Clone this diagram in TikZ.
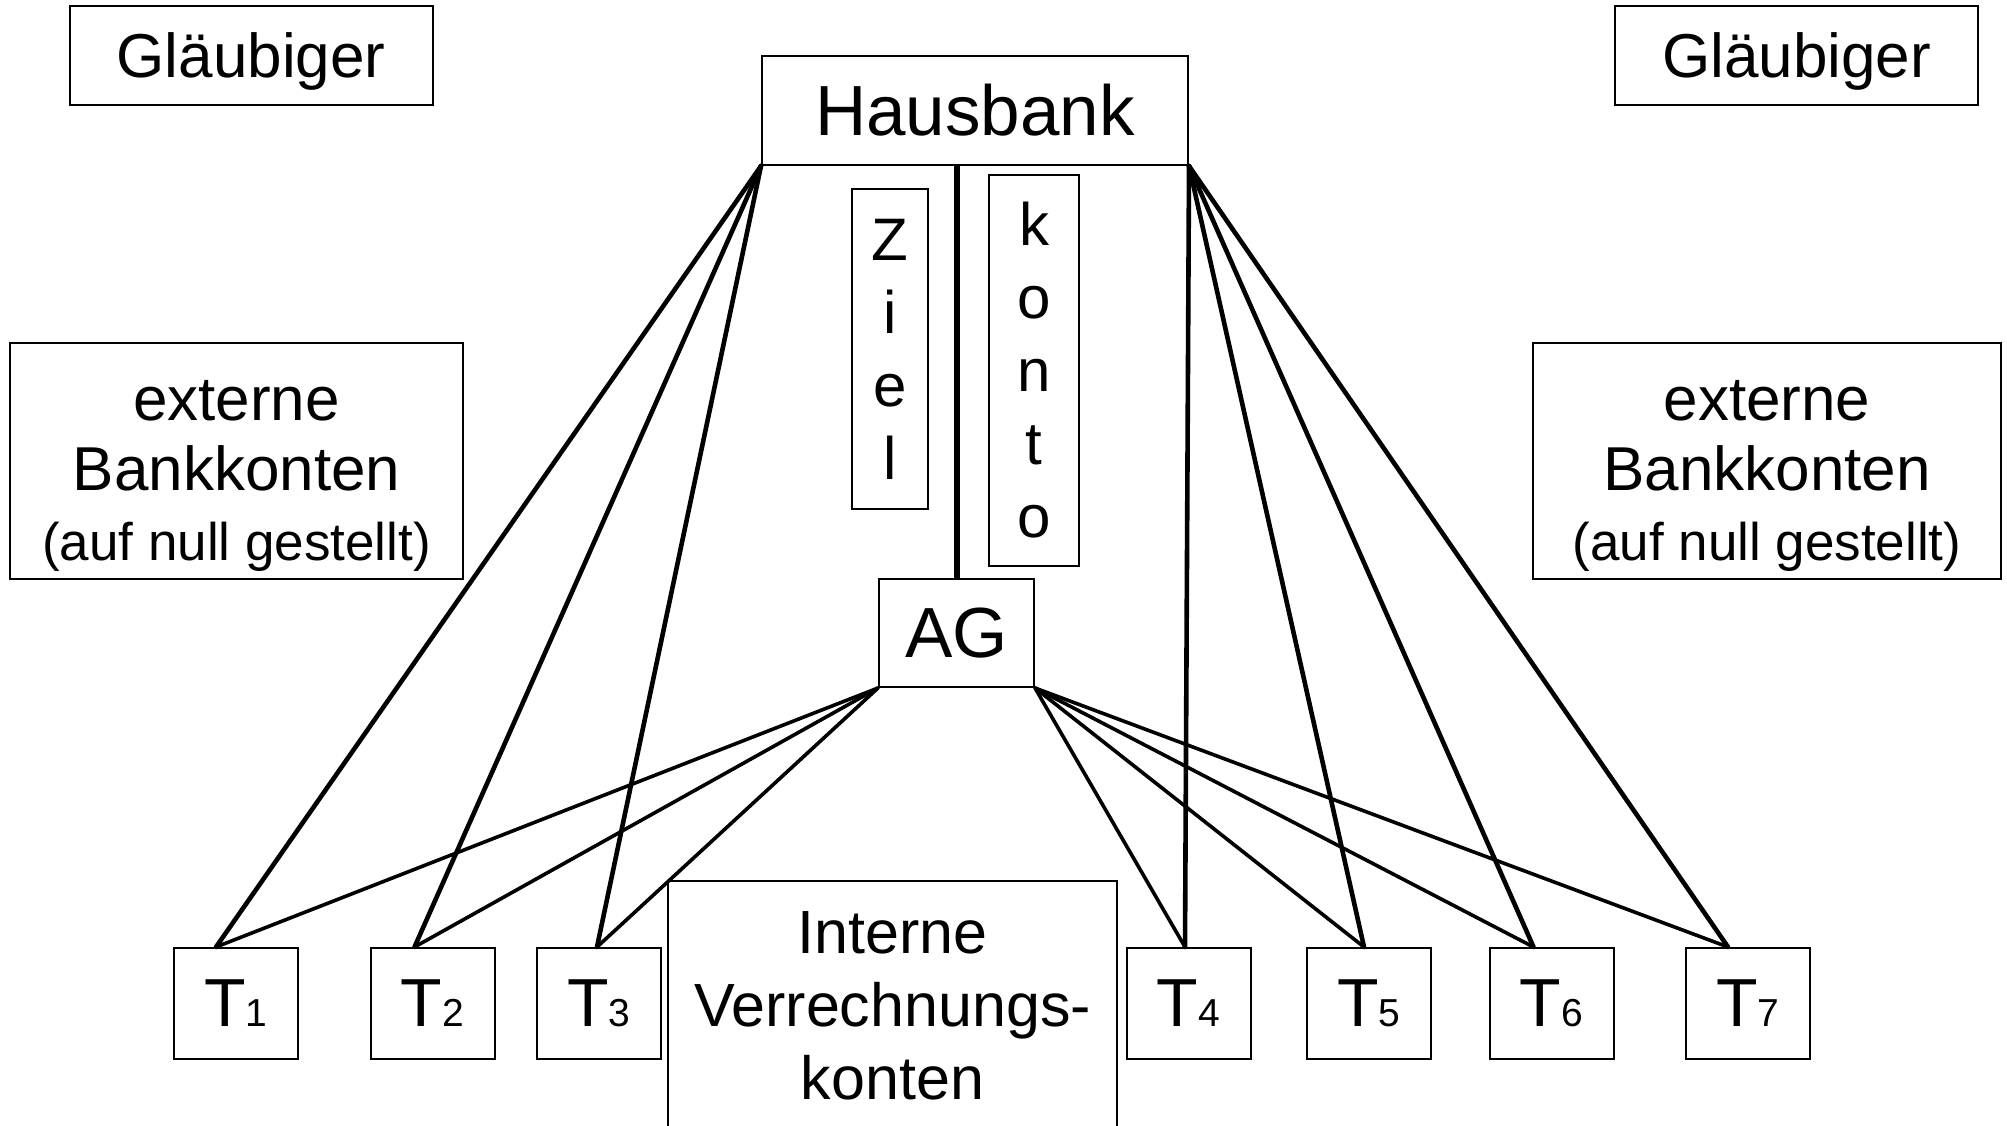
\documentclass[tikz,border=0pt]{standalone}
\usepackage{fontspec}
\setmainfont{Liberation Sans}
\usetikzlibrary{calc}

\newcommand{\teil}[1]{T{\fontsize{19.5pt}{20pt}\selectfont #1}}

\begin{document}
\begin{tikzpicture}[x=0.5pt,y=-0.5pt,
  box/.style={draw,line width=1pt,inner sep=0pt,align=center},
  big/.style={font=\fontsize{35.5pt}{40pt}\selectfont},
  mid/.style={font=\fontsize{31pt}{35pt}\selectfont},
  tbox/.style={box,minimum width=62pt,minimum height=55.5pt,font=\fontsize{34pt}{36pt}\selectfont},
  hb/.style={line width=2.3pt,line cap=round},
  agl/.style={line width=1.8pt,line cap=round}]
  \useasboundingbox (0,0) rectangle (2007,1125);
  \node[box,mid,text depth=0pt,minimum width=181.5pt,minimum height=49.5pt] (gl1) at (251,55.5) {Gläubiger};
  \node[box,mid,text depth=0pt,minimum width=181.5pt,minimum height=49.5pt] (gl2) at (1796.5,55.5) {Gläubiger};
  \node[box,big,minimum width=213pt,minimum height=54.5pt] (bank) at (975,110.5) {Hausbank};
  \node[box,font=\fontsize{30pt}{36.5pt}\selectfont,minimum width=38pt,minimum height=160pt] (ziel) at (890,349) {Z\\i\\e\\l};
  \node[box,font=\fontsize{30pt}{36.5pt}\selectfont,minimum width=45pt,minimum height=195.5pt] (konto) at (1034,370.5) {k\\o\\n\\t\\o};
  \node[box,big,minimum width=77.5pt,minimum height=54pt] (ag) at (956.5,633) {AG};
  \node[box,mid,minimum width=226.5pt,minimum height=118pt] (ext1) at (236.5,461)
    {\rule{0pt}{35pt}externe\\Bankkonten\\\fontsize{26.5pt}{35pt}\selectfont (auf null gestellt)};
  \node[box,mid,minimum width=234pt,minimum height=118pt] (ext2) at (1767,461)
    {\rule{0pt}{35pt}externe\\Bankkonten\\\fontsize{26.5pt}{35pt}\selectfont (auf null gestellt)};
  \node[box,font=\fontsize{30.5pt}{36.5pt}\selectfont,minimum width=224.5pt,minimum height=129.5pt] (intern) at (892.5,1010.5)
    {Interne\\Verrechnungs-\\konten\rule[-5pt]{0pt}{0pt}};
  \node[tbox] (t1) at (236,1003.5) {\teil{1}};
  \node[tbox] (t2) at (432.5,1003.5) {\teil{2}};
  \node[tbox] (t3) at (599,1003.5) {\teil{3}};
  \node[tbox] (t4) at (1188.5,1003.5) {\teil{4}};
  \node[tbox] (t5) at (1369,1003.5) {\teil{5}};
  \node[tbox] (t6) at (1551.5,1003.5) {\teil{6}};
  \node[tbox] (t7) at (1748,1003.5) {\teil{7}};
  % Hausbank zu den Toechtern
  \path[hb] (bank.south west) edge ([xshift=-10pt]t1.north)
  edge ([xshift=-9pt]t2.north)
  edge ([xshift=-1pt]t3.north)
  (bank.south east) edge ([xshift=-1.75pt]t4.north)
  edge ([xshift=-2.5pt]t5.north)
  edge ([xshift=-9pt]t6.north)
  edge ([xshift=-10pt]t7.north)
  (ag.north |- bank.south) edge[line width=3pt,line cap=butt] (ag.north);
  % AG zu den Toechtern
  \path[agl] (ag.south west) edge ([xshift=-10pt]t1.north)
  edge ([xshift=-9pt]t2.north)
  edge ([xshift=-1pt]t3.north)
  (ag.south east) edge ([xshift=-1.75pt]t4.north)
  edge ([xshift=-2.5pt]t5.north)
  edge ([xshift=-9pt]t6.north)
  edge ([xshift=-10pt]t7.north);
\end{tikzpicture}
\end{document}
